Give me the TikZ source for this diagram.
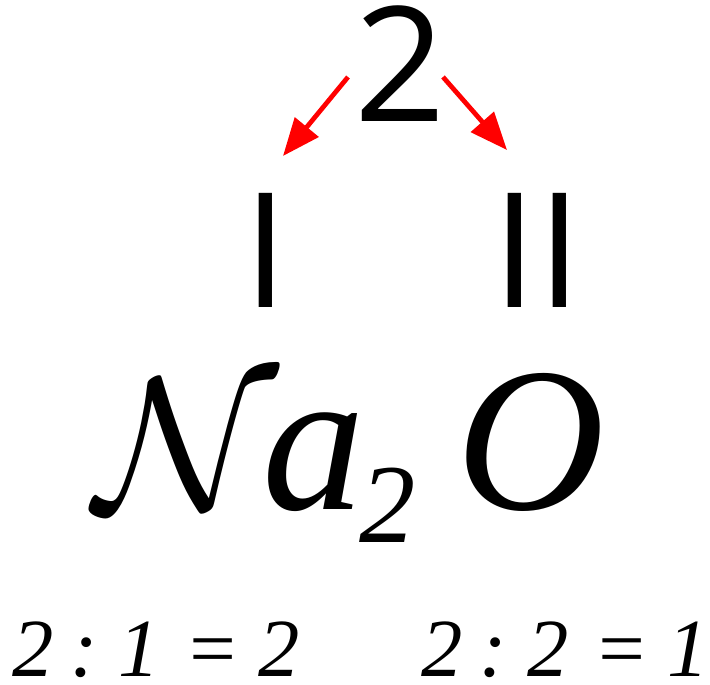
\documentclass[tikz,border=0pt]{standalone}
\usepackage{fix-cm}
\usepackage{fontspec}
\newfontfamily\formulafont{Liberation Serif}[ItalicFont={Liberation Serif Italic}]
\newfontfamily\valencefont{Open Sans}
\usepackage{tikz}
\usetikzlibrary{arrows.meta}

\tikzset{
  valence/.style={font=\valencefont\fontsize{91}{91}\selectfont, inner sep=0pt, anchor=base},
  formula/.style={font=\formulafont\itshape\fontsize{117}{117}\selectfont, inner sep=0pt, anchor=base},
  ratio/.style={font=\formulafont\itshape\fontsize{47}{47}\selectfont, inner sep=0pt, text depth=0pt, anchor=base},
  pointer/.style={red, line width=2.7pt, -{Triangle[length=0.75cm,width=0.6cm]}}
}

\begin{document}
\begin{tikzpicture}
  \useasboundingbox (0,0) rectangle (14.2,13.68);
  \node[valence] (two) at (8.0,11.24) {2};
  \node[valence] (one) at (5.32,7.52) {I};
  \node[valence] (twoval) at (10.75,7.52) {II};
  \coordinate (lstart) at (6.96,12.14);
  \coordinate (lend) at (5.66,10.56);
  \coordinate (rstart) at (8.86,12.14);
  \coordinate (rend) at (10.14,10.68);
  \draw[pointer] (lstart) -- (lend);
  \draw[pointer] (rstart) -- (rend);
  \node[formula] (na) at (5.1,3.48) {{\fontsize{108}{108}\selectfont$\mathcal{N}$}\hspace{-0.3cm}a\hspace{-0.12cm}\raisebox{-0.66cm}{\fontsize{64}{64}\selectfont 2}};
  \node[formula] (o) at (10.62,3.48) {O};
  \node[ratio] (lratio) at (3.12,0.14) {2\hspace{0.2em}:\hspace{0.25em}1\hspace{0.3em}=\hspace{0.22em}2};
  \node[ratio] (rratio) at (11.3,0.14) {2\hspace{0.2em}:\hspace{0.25em}2\hspace{0.3em}=\hspace{0.22em}1};
\end{tikzpicture}
\end{document}
